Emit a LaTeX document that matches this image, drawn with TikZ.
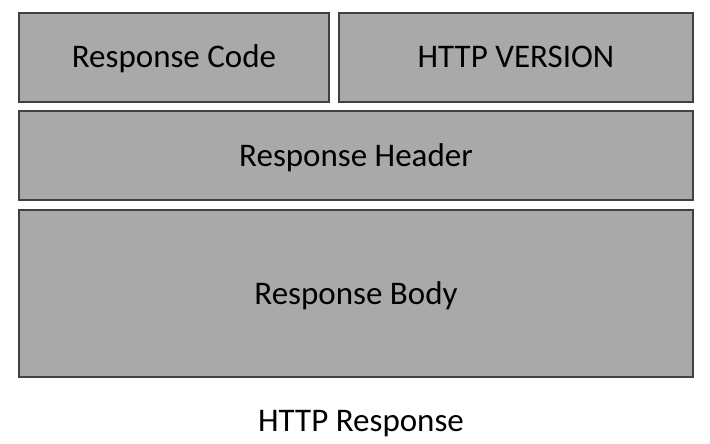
\documentclass[tikz,border=0pt]{standalone}
\usepackage{fontspec}
\setmainfont{Carlito}
\usepackage{tikz}
\usepackage{xcolor}
\usetikzlibrary{positioning}

\definecolor{boxgray}{HTML}{A9A9A9}
\definecolor{edgegray}{HTML}{404040}

\begin{document}
\begin{tikzpicture}[x=1pt,y=-1pt]
  \tikzset{field/.style = {shape=rectangle,draw=edgegray,line width=1.6pt,fill=boxgray,inner sep=0pt,text height=21pt,text depth=0pt,font=\fontsize{33}{40}\selectfont}}
  \tikzset{caption/.style = {inner sep=0pt,text height=21pt,text depth=0pt,font=\fontsize{33}{40}\selectfont}}

  \useasboundingbox (0,0) rectangle (710,444);

	\node[field,minimum width=310pt,minimum height=89pt] (code) at (174,57.5) {Response Code};
	\node[field,minimum width=354pt,minimum height=89pt] (version) at (516,57.5) {HTTP VERSION};

	\node[field,minimum width=674pt,minimum height=89pt] (header) at (356,155.5) {Response Header};

	\node[field,minimum width=674pt,minimum height=167pt] (body) at (356,293.5) {Response Body};

	\node[caption] (title) at (361,421) {HTTP Response};

\end{tikzpicture}
\end{document}
